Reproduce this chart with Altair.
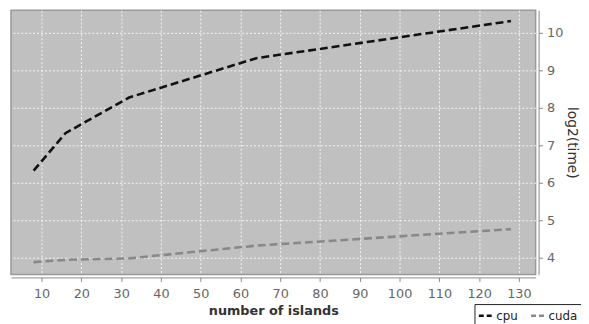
import altair as alt
import pandas as pd

islands = [8, 16, 32, 64, 128]
cpu = [6.32, 7.32, 8.27, 9.32, 10.31]
cuda = [3.88, 3.94, 3.98, 4.32, 4.76]

rows = []
for x, y in zip(islands, cpu):
    rows.append({"islands": x, "time": y, "series": "cpu"})
for x, y in zip(islands, cuda):
    rows.append({"islands": x, "time": y, "series": "cuda"})
df = pd.DataFrame(rows)

FONT = "DejaVu Sans"

chart = alt.Chart(df).mark_line(strokeWidth=2.6, strokeDash=[8, 4]).encode(
    x=alt.X("islands:Q",
            scale=alt.Scale(domain=[2.3, 134.2], nice=False, zero=False),
            axis=alt.Axis(title="number of islands", values=list(range(10, 140, 10)),
                          offset=3, grid=True, gridColor="white", gridDash=[2, 2],
                          gridOpacity=0.85, domainColor="#888", tickColor="#888",
                          tickSize=4, labelColor="#666", labelFontSize=13,
                          labelFont=FONT, titleFont=FONT, titleFontSize=13,
                          titleFontWeight="bold", titleColor="#333", labelPadding=6,
                          titlePadding=5)),
    y=alt.Y("time:Q",
            scale=alt.Scale(domain=[3.55, 10.6], nice=False, zero=False),
            axis=alt.Axis(title="log2(time)", orient="right", values=[4, 5, 6, 7, 8, 9, 10],
                          offset=3, grid=True, gridColor="white", gridDash=[2, 2],
                          gridOpacity=0.85, domainColor="#888", tickColor="#888",
                          tickSize=4, labelColor="#666", labelFontSize=13,
                          labelFont=FONT, titleFont=FONT, titleFontSize=14,
                          titleFontWeight="normal", titleColor="#333", titleAngle=90,
                          titlePadding=2, labelPadding=4)),
    color=alt.Color("series:N",
                    scale=alt.Scale(domain=["cpu", "cuda"], range=["#111111", "#888888"]),
                    legend=alt.Legend(title=None, orient="none", legendX=470, legendY=298,
                                      direction="horizontal", symbolType="stroke",
                                      symbolDash=[5, 3], symbolStrokeWidth=2.5,
                                      symbolSize=200, labelFont=FONT, labelFontSize=12,
                                      labelColor="#222", strokeColor="#222",
                                      padding=3, columnPadding=8, labelOffset=2)),
).properties(
    width=532, height=268,
    autosize=alt.AutoSizeParams(type="none"),
    padding={"left": 3, "top": 0, "right": 46, "bottom": 48},
).configure_view(fill="#c0c0c0", stroke="#999", strokeWidth=1.5)

chart.save("out.html", embed_options={"renderer": "svg", "actions": False})
